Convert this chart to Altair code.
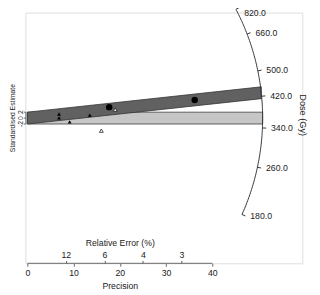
import altair as alt
import pandas as pd
import numpy as np

# ---- values ----
central_doses = [363.0, 430.0]          # Gy: light (global) band, dark band
band_half = 2.0                          # +/- standardised estimate of bands
dose_ticks = [180.0, 260.0, 340.0, 420.0, 500.0, 660.0, 820.0]
precision_ticks = [0, 10, 20, 30, 40]
rel_error_ticks = [12, 6, 4, 3]
std_ticks = [-2, 0, 2]

circ_prec = [17.7, 36.2]
circ_std = [3.7, 6.1]
tri_prec = [6.85, 6.85, 13.5, 9.15]
tri_std = [1.4, 0.1, 1.0, -1.3]
otri_prec = [19.0, 16.0]
otri_std = [2.85, -4.25]

# ---- layout (pixels) ----
W, H = 286, 259
PX = 4.775             # px per precision unit
F = 0.64               # aspect factor (py/px)
PY = PX * F
X0_PX, Y0_PX = 2.0, 109.0   # origin inside plot area
R = 243.0 / PX              # arc radius in precision units

xdom = [-X0_PX / PX, (W - X0_PX) / PX]
ydom = [-(H - Y0_PX) / PY, Y0_PX / PY]
xs = alt.Scale(domain=xdom, nice=False, zero=False)
ys = alt.Scale(domain=ydom, nice=False, zero=False)

FONT = "Liberation Sans"
TXT = "#222222"
AXC = "#666666"
z0 = np.log(central_doses[0])

def band(dose):
    d = np.log(dose) - z0
    xe = R / np.sqrt(1 + F**2 * d**2)
    xv = [0.0, xe]
    return pd.DataFrame({"x": xv,
                         "lo": [d * v - band_half for v in xv],
                         "hi": [d * v + band_half for v in xv]})

light = band(central_doses[0])
dark = band(central_doses[1])

zz = np.linspace(np.log(min(dose_ticks)), np.log(max(dose_ticks)), 120)
dd = zz - z0
ax_ = R / np.sqrt(1 + F**2 * dd**2)
arc = pd.DataFrame({"x": ax_, "y": dd * ax_, "o": range(len(zz))})

td = np.log(dose_ticks) - z0
tx = R / np.sqrt(1 + F**2 * td**2)
ticks = pd.DataFrame({"x": tx, "y": td * tx, "x2": tx * 1.016, "y2": td * tx * 1.016,
                      "lab": [f"{v:.1f}" for v in dose_ticks]})
ticks_top = ticks.iloc[[-1]]
ticks_rest = ticks.iloc[:-1]

circles = pd.DataFrame({"x": circ_prec, "y": circ_std})
tris = pd.DataFrame({"x": tri_prec, "y": tri_std})
otris = pd.DataFrame({"x": otri_prec, "y": otri_std})
stdf = pd.DataFrame({"y": std_ticks, "t": [str(v) for v in std_ticks]})

base_x = alt.X("x:Q", scale=xs, axis=None)
base_y = alt.Y("y:Q", scale=ys, axis=None)

light_l = alt.Chart(light).mark_area(color="#c6c6c6", stroke="#3a3a3a", strokeWidth=0.8).encode(
    x=alt.X("x:Q", scale=xs, axis=alt.Axis(
        values=precision_ticks, domain=False, grid=False, tickSize=3, tickColor=AXC,
        labelFontSize=9, labelFont=FONT, labelColor=TXT, labelPadding=3,
        title="Precision", titleFont=FONT, titleFontSize=9, titleFontWeight="normal",
        titleColor=TXT, titlePadding=4.5, titleX=97.5, titleAnchor="middle")),
    y=alt.Y("lo:Q", scale=ys, axis=None),
    y2="hi:Q")

dark_l = alt.Chart(dark).mark_area(color="#616161", stroke="#333333", strokeWidth=0.8).encode(
    x=base_x, y=alt.Y("lo:Q", scale=ys, axis=None), y2="hi:Q")

prec_rule = alt.Chart(pd.DataFrame({"a": [min(precision_ticks)], "b": [max(precision_ticks)]})).mark_rule(
    color=AXC, strokeWidth=1).encode(
    x=alt.X("a:Q", scale=xs, axis=alt.Axis(
        orient="top", offset=-H, values=[100.0 / v for v in rel_error_ticks],
        labelExpr="format(100/datum.value, '.0f')", domain=False, grid=False,
        tickSize=3, tickColor=AXC, labelFontSize=9, labelFont=FONT,
        labelColor=TXT, labelPadding=1, title="Relative Error (%)", titleFont=FONT,
        titleFontSize=9, titleFontWeight="normal", titleColor=TXT, titlePadding=3,
        titleX=97.5, titleAnchor="middle")),
    x2="b:Q", y=alt.value(H))

# standardised-estimate axis (small, drawn by hand)
y_rule = alt.Chart(pd.DataFrame({"a": [min(std_ticks)], "b": [max(std_ticks)]})).mark_rule(
    color=AXC, strokeWidth=1).encode(
    y=alt.Y("a:Q", scale=ys, axis=None), y2="b:Q", x=alt.value(0.5))
y_ticks = alt.Chart(stdf).mark_rule(color=AXC, strokeWidth=1).encode(
    y=base_y, x=alt.value(-1.5), x2=alt.value(0.5))
y_labs = alt.Chart(stdf).mark_text(angle=270, fontSize=7, font=FONT, color=TXT,
                                   align="center", baseline="middle").encode(
    y=base_y, x=alt.value(-5), text="t:N")
y_title = alt.Chart(pd.DataFrame({"t": ["Standardised Estimate"]})).mark_text(
    angle=270, fontSize=7, font=FONT, color=TXT, align="center", baseline="middle").encode(
    x=alt.value(-13), y=alt.value(109), text="t:N")

arc_l = alt.Chart(arc).mark_line(color="#333333", strokeWidth=1).encode(
    x=base_x, y=base_y, order="o:Q")

tick_l = alt.Chart(ticks).mark_rule(color="#333333", strokeWidth=1).encode(
    x=base_x, y=base_y, x2="x2:Q", y2="y2:Q")

def labels(df, dy):
    return alt.Chart(df).mark_text(align="left", baseline="middle", dx=5, dy=dy, fontSize=9,
                                   font=FONT, color=TXT).encode(
        x=alt.X("x2:Q", scale=xs, axis=None), y=alt.Y("y2:Q", scale=ys, axis=None), text="lab:N")

lab_l = labels(ticks_rest, 0)
lab_top = labels(ticks_top, 6)

dose_title = alt.Chart(pd.DataFrame({"t": ["Dose (Gy)"]})).mark_text(
    angle=90, fontSize=9.5, font=FONT, color=TXT, align="center", baseline="middle").encode(
    x=alt.value(287), y=alt.value(106), text="t:N")

circ_l = alt.Chart(circles).mark_point(shape="circle", filled=True, size=44, color="black", opacity=1).encode(
    x=base_x, y=base_y)
tri_l = alt.Chart(tris).mark_point(shape="triangle-up", filled=True, size=16, color="black", opacity=1).encode(
    x=base_x, y=base_y)
otri_l = alt.Chart(otris).mark_point(shape="triangle-up", filled=True, size=16, fill="white",
                                     stroke="#222", strokeWidth=0.8, opacity=1).encode(
    x=base_x, y=base_y)

chart = alt.layer(light_l, dark_l, prec_rule, y_rule, y_ticks, y_labs, y_title, arc_l, tick_l,
                  lab_l, lab_top, dose_title, tri_l, otri_l, circ_l).resolve_axis(x="independent").properties(
    width=W, height=H, autosize=alt.AutoSizeParams(type="none"),
    padding={"left": 18, "top": 0, "right": 10, "bottom": 28}
).configure_view(stroke=None).configure(background="white")

chart.save("out.html", embed_options={"renderer": "svg", "actions": False})
